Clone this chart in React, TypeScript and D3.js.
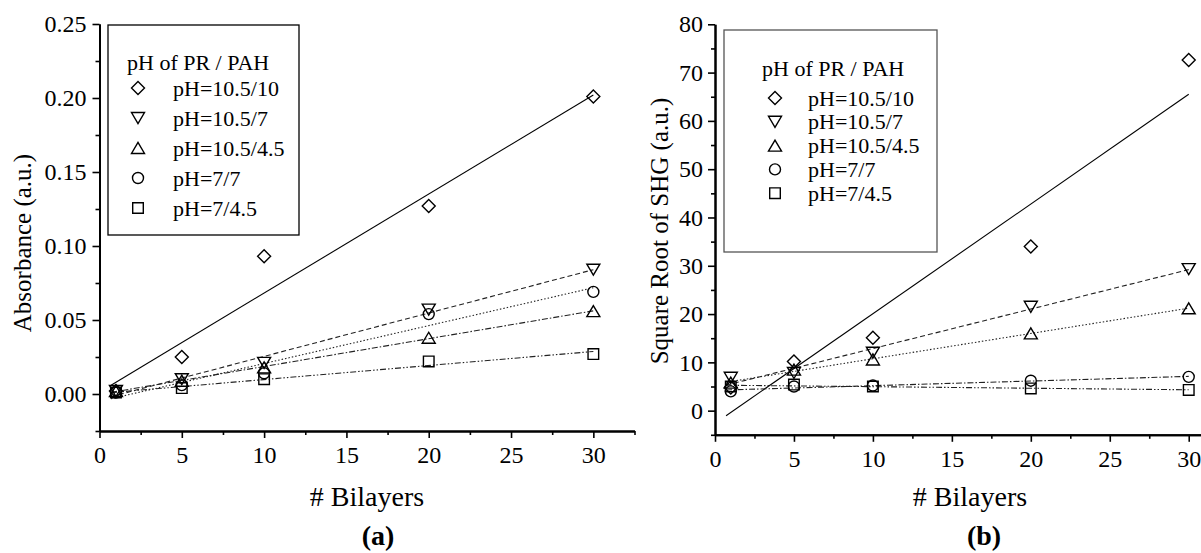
import React, { useEffect, useRef } from "react";
import * as d3 from "d3";

// number of bilayers (x values, same for both panels)
const bilayers = [1, 5, 10, 20, 30];

const seriesNames = ["pH=10.5/10", "pH=10.5/7", "pH=10.5/4.5", "pH=7/7", "pH=7/4.5"];
const seriesShapes = ["diamond", "triangleDown", "triangleUp", "circle", "square"];

// (a) absorbance
const abs_10_5_10 = [0.002, 0.025, 0.093, 0.127, 0.201];
const abs_10_5_7 = [0.002, 0.01, 0.021, 0.057, 0.084];
const abs_10_5_4_5 = [0.002, 0.009, 0.018, 0.038, 0.056];
const abs_7_7 = [0.001, 0.006, 0.014, 0.054, 0.069];
const abs_7_4_5 = [0.001, 0.004, 0.01, 0.022, 0.027];

// (b) square root of SHG
const shg_10_5_10 = [4.8, 10.2, 15.1, 34.0, 72.6];
const shg_10_5_7 = [6.8, 7.8, 12.0, 21.5, 29.3];
const shg_10_5_4_5 = [5.8, 8.5, 10.6, 16.0, 21.2];
const shg_7_7 = [4.0, 5.0, 5.2, 6.2, 7.0];
const shg_7_4_5 = [5.0, 5.4, 5.0, 4.6, 4.3];

const xTicks = [0, 5, 10, 15, 20, 25, 30];
const absTicks = [0, 0.05, 0.1, 0.15, 0.2, 0.25];
const shgTicks = [0, 10, 20, 30, 40, 50, 60, 70, 80];

const FONT = "Liberation Serif";

// least squares line, returns [intercept, slope]
function linearFit(xs, ys) {
  const mx = d3.mean(xs), my = d3.mean(ys);
  let sxy = 0, sxx = 0;
  xs.forEach((x, i) => {
    sxy += (x - mx) * (ys[i] - my);
    sxx += (x - mx) * (x - mx);
  });
  const b = sxy / sxx;
  return [my - b * mx, b];
}

function markerPath(shape, cx, cy) {
  if (shape === "diamond") {
    const r = 6.5;
    return `M${cx},${cy - r}L${cx + r},${cy}L${cx},${cy + r}L${cx - r},${cy}Z`;
  }
  if (shape === "triangleDown") {
    return `M${cx - 6.5},${cy - 5.5}L${cx + 6.5},${cy - 5.5}L${cx},${cy + 5.5}Z`;
  }
  if (shape === "triangleUp") {
    return `M${cx - 6.5},${cy + 5.5}L${cx + 6.5},${cy + 5.5}L${cx},${cy - 5.5}Z`;
  }
  if (shape === "circle") {
    const r = 5.5;
    return `M${cx - r},${cy}A${r},${r} 0 1,0 ${cx + r},${cy}A${r},${r} 0 1,0 ${cx - r},${cy}Z`;
  }
  const s = 5.3;
  return `M${cx - s},${cy - s}H${cx + s}V${cy + s}H${cx - s}Z`;
}

function styleAxis(g) {
  g.attr("font-family", FONT).attr("font-size", 24);
  g.select(".domain").attr("stroke", "#000").attr("stroke-width", 2);
  g.selectAll(".tick line").attr("stroke", "#000").attr("stroke-width", 1.6);
  g.selectAll(".tick text").attr("fill", "#000");
}

function drawPanel(svg, cfg) {
  const x = d3.scaleLinear().domain([0, 32.5]).range(cfg.xRange);
  const y = d3.scaleLinear().domain(cfg.yDomain).range(cfg.yRange);
  const g = svg.append("g");

  // fitted lines
  cfg.series.forEach((vals, i) => {
    const [a, b] = linearFit(bilayers, vals);
    const line = d3.line().x(d => x(d)).y(d => y(a + b * d));
    g.append("path")
      .datum([0.7, 30])
      .attr("d", line)
      .attr("fill", "none")
      .attr("stroke", i === 0 ? "#000" : "#222")
      .attr("stroke-width", 1.1)
      .attr("stroke-dasharray", cfg.dashes[i]);
  });

  // data markers
  cfg.series.forEach((vals, i) => {
    g.selectAll(".m" + i)
      .data(vals)
      .enter().append("path")
      .attr("d", (d, j) => markerPath(seriesShapes[i], x(bilayers[j]), y(d)))
      .attr("fill", "none")
      .attr("stroke", "#000")
      .attr("stroke-width", 1.4);
  });

  // axes
  const xAxis = d3.axisBottom(x).tickValues(xTicks).tickSize(7).tickSizeOuter(0).tickPadding(8);
  const xMinor = d3.axisBottom(x).tickValues(d3.range(2.5, 33, 5)).tickSize(4).tickSizeOuter(0).tickFormat(() => "");
  const yAxis = d3.axisLeft(y).tickValues(cfg.yTicks).tickSize(7).tickSizeOuter(0).tickPadding(cfg.yPad).tickFormat(cfg.yFormat);
  const yMinor = d3.axisLeft(y).tickValues(cfg.yMinor).tickSize(4).tickSizeOuter(0).tickFormat(() => "");

  g.append("g").attr("transform", `translate(0,${cfg.yRange[0]})`).call(xMinor).call(styleAxis);
  g.append("g").attr("transform", `translate(0,${cfg.yRange[0]})`).call(xAxis).call(styleAxis);
  g.append("g").attr("transform", `translate(${cfg.xRange[0]},0)`).call(yMinor).call(styleAxis);
  g.append("g").attr("transform", `translate(${cfg.xRange[0]},0)`).call(yAxis).call(styleAxis);

  // legend
  const lg = cfg.legend;
  g.append("rect")
    .attr("x", lg.x).attr("y", lg.y).attr("width", lg.w).attr("height", lg.h)
    .attr("fill", "#fff").attr("stroke", lg.stroke).attr("stroke-width", 1.3);
  g.append("text")
    .attr("x", lg.titleX).attr("y", lg.titleY)
    .attr("font-family", FONT).attr("font-size", 22)
    .text("pH of PR / PAH");
  seriesNames.forEach((name, i) => {
    const cy = lg.rowY + i * lg.rowStep;
    g.append("path")
      .attr("d", markerPath(seriesShapes[i], lg.symX, cy))
      .attr("fill", "none").attr("stroke", "#000").attr("stroke-width", 1.4);
    g.append("text")
      .attr("x", lg.textX).attr("y", cy + 7.5)
      .attr("font-family", FONT).attr("font-size", 22)
      .text(name);
  });

  // axis titles
  g.append("text")
    .attr("transform", `translate(${cfg.yLabelX},${cfg.yLabelY}) rotate(-90)`)
    .attr("text-anchor", "middle")
    .attr("font-family", FONT).attr("font-size", 25)
    .text(cfg.yLabel);
  g.append("text")
    .attr("x", cfg.xLabelX).attr("y", 506)
    .attr("text-anchor", "middle")
    .attr("font-family", FONT).attr("font-size", 28)
    .text("# Bilayers");
  g.append("text")
    .attr("x", cfg.tagX).attr("y", 545)
    .attr("text-anchor", "middle")
    .attr("font-family", FONT).attr("font-size", 28).attr("font-weight", "bold")
    .text(cfg.tag);
}

export default function App() {
  const ref = useRef(null);

  useEffect(() => {
    const svg = d3.select(ref.current);
    svg.selectAll("*").remove();

    drawPanel(svg, {
      xRange: [99.5, 634.5],
      yDomain: [-0.025, 0.25],
      yRange: [431, 24],
      yTicks: absTicks,
      yMinor: d3.range(-0.025, 0.25, 0.05),
      yFormat: d3.format(".2f"),
      yPad: 6,
      series: [abs_10_5_10, abs_10_5_7, abs_10_5_4_5, abs_7_7, abs_7_4_5],
      dashes: [null, "5,3", "6,2,1.5,2", "1.5,2", "6,2,1.5,2,1.5,2"],
      legend: { x: 108, y: 25, w: 191, h: 210, stroke: "#000", titleX: 127, titleY: 70, rowY: 88, rowStep: 30, symX: 138, textX: 173 },
      yLabel: "Absorbance (a.u.)",
      yLabelX: 31, yLabelY: 243,
      xLabelX: 367,
      tag: "(a)", tagX: 378,
    });

    drawPanel(svg, {
      xRange: [715, 1228.2],
      yDomain: [-5, 80],
      yRange: [434.8, 24.3],
      yTicks: shgTicks,
      yMinor: d3.range(-5, 80, 10),
      yFormat: d3.format("d"),
      yPad: 5,
      series: [shg_10_5_10, shg_10_5_7, shg_10_5_4_5, shg_7_7, shg_7_4_5],
      dashes: [null, "5,3", "1.5,2", "6,2,1.5,2", "6,2,1.5,2,1.5,2"],
      legend: { x: 724, y: 30, w: 213, h: 222, stroke: "#555", titleX: 762, titleY: 76, rowY: 98, rowStep: 23.8, symX: 775, textX: 808 },
      yLabel: "Square Root of SHG (a.u.)",
      yLabelX: 668, yLabelY: 231,
      xLabelX: 970,
      tag: "(b)", tagX: 984,
    });
  }, []);

  return (
    <svg
      ref={ref}
      width={1201}
      height={553}
      style={{ position: "absolute", left: 0, top: 0, background: "#fff" }}
    />
  );
}
